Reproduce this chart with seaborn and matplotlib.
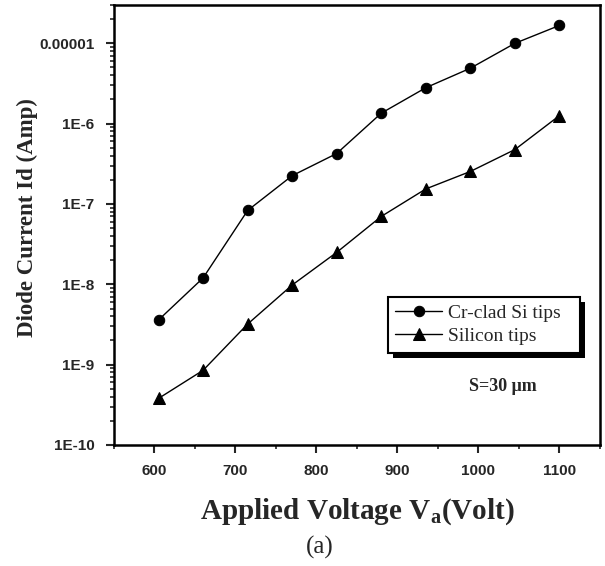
import numpy as np
import pandas as pd
import matplotlib
matplotlib.use("Agg")
import matplotlib.pyplot as plt
import matplotlib.ticker as mticker
from matplotlib.patches import Rectangle
from matplotlib.font_manager import FontProperties
import seaborn as sns

voltage = [605, 660, 715, 770, 825, 880, 935, 990, 1045, 1100]
cr_clad = [3.6e-9, 1.2e-8, 8.3e-8, 2.25e-7, 4.25e-7, 1.35e-6, 2.8e-6, 4.9e-6, 1.0e-5, 1.67e-5]
silicon = [3.8e-10, 8.5e-10, 3.2e-9, 9.8e-9, 2.5e-8, 7.0e-8, 1.54e-7, 2.54e-7, 4.76e-7, 1.26e-6]
y_ticks = [1e-10, 1e-9, 1e-8, 1e-7, 1e-6, 1e-5]
y_labels = ["1E-10", "1E-9", "1E-8", "1E-7", "1E-6", "0.00001"]
x_ticks = [600, 700, 800, 900, 1000, 1100]

sns.set_style("ticks")
plt.rcParams['font.family'] = ['Liberation Sans', 'DejaVu Sans']
plt.rcParams['mathtext.fontset'] = 'custom'
plt.rcParams['mathtext.rm'] = 'Liberation Serif'
plt.rcParams['mathtext.bf'] = 'Liberation Serif:bold'

fig = plt.figure(figsize=(6.05, 5.66), dpi=100)
ax = fig.add_axes([0.1884, 0.2138, 0.8033, 0.7774])

df1 = pd.DataFrame({"V": voltage, "I": cr_clad})
df2 = pd.DataFrame({"V": voltage, "I": silicon})
sns.lineplot(data=df1, x="V", y="I", ax=ax, color="black", marker="o", markersize=7.5,
             markeredgecolor="black", linewidth=1.0, label="Cr-clad Si tips")
sns.lineplot(data=df2, x="V", y="I", ax=ax, color="black", marker="^", markersize=8.5,
             markeredgecolor="black", linewidth=1.0, label="Silicon tips")

ax.set_yscale("log")
ax.set_ylim(1e-10, 3e-5)
ax.set_xlim(550, 1150)
ax.set_yticks(y_ticks)
ax.set_yticklabels(y_labels)
ax.yaxis.set_minor_locator(mticker.LogLocator(base=10, subs=np.arange(2, 10)))
ax.yaxis.set_minor_formatter(mticker.NullFormatter())
ax.set_xticks(x_ticks)
ax.xaxis.set_minor_locator(mticker.MultipleLocator(50))

for lbl in ax.get_xticklabels() + ax.get_yticklabels():
    lbl.set_fontweight("bold")
    lbl.set_fontsize(11)
    lbl.set_family(["Liberation Sans"])

ax.tick_params(which="major", direction="out", length=6, width=1.5, pad=8)
ax.tick_params(which="minor", direction="out", length=3, width=1.2)
for s in ax.spines.values():
    s.set_visible(True)
    s.set_linewidth(1.8)
    s.set_color("black")

ax.set_xlabel("Applied Voltage V$_{\\mathbf{a}}$(Volt)", fontsize=21, fontweight="bold",
              family=["Liberation Serif"], labelpad=13)
ax.set_ylabel("Diode Current Id (Amp)", fontsize=16.5, fontweight="bold",
              family=["Liberation Serif"], labelpad=1)
ax.yaxis.label.set_y(0.518)

leg_font = FontProperties(family=["Liberation Serif"], size=14)
leg = ax.legend(loc="upper left", bbox_to_anchor=(0.564, 0.211, 0.395, 0.125),
                mode="expand", frameon=True,
                fancybox=False, prop=leg_font,
                shadow=False, handlelength=2.4,
                borderpad=0.38, labelspacing=0.28, handletextpad=0.3, borderaxespad=0)
for t in leg.get_texts():
    t.set_fontproperties(leg_font)
leg.get_frame().set_edgecolor("black")
leg.get_frame().set_linewidth(1.5)
leg.get_frame().set_alpha(1.0)
leg.set_zorder(6)

ax.text(0.8, 0.132, "S=30 \u03bcm", transform=ax.transAxes, fontsize=13,
        fontweight="bold", family=["Liberation Serif"], ha="center", va="center")
fig.text(0.529, 0.032, "(a)", fontsize=18, family=["Liberation Serif"], ha="center", va="center")

fig.canvas.draw()
bb = leg.get_window_extent()
shadow = Rectangle((bb.x0 + 5, bb.y0 - 5), bb.width, bb.height, transform=None,
                   facecolor="black", edgecolor="none", zorder=4.5, clip_on=False)
ax.add_artist(shadow)

fig.savefig("out.png", dpi=100, facecolor="white")
